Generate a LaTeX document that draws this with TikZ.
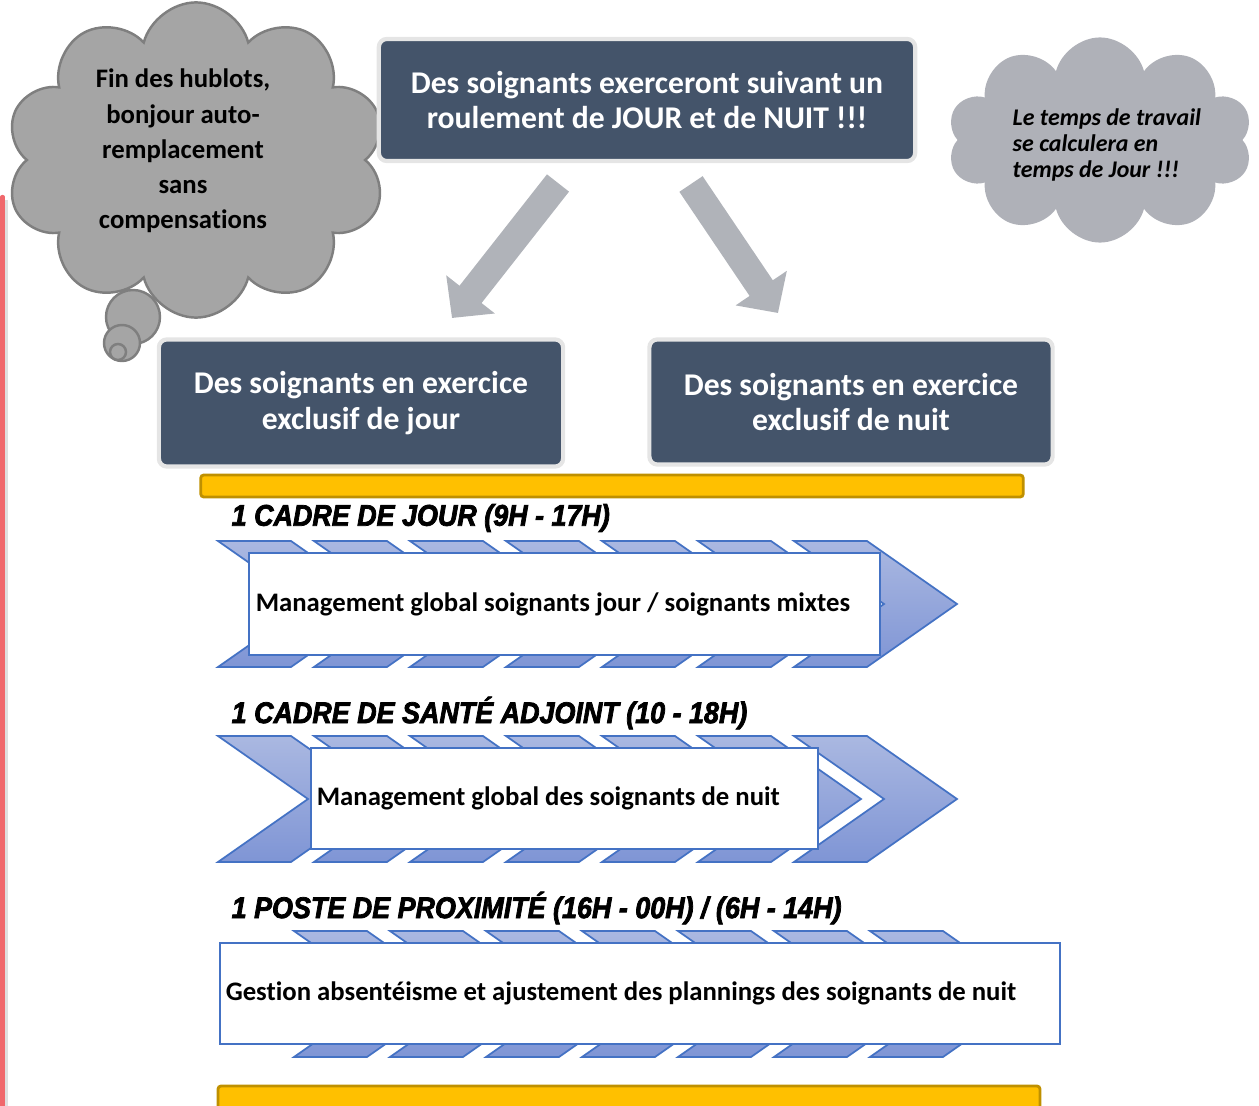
\documentclass[tikz,border=0pt]{standalone}
\usepackage{fontspec}
\setmainfont[Ligatures=NoCommon]{Carlito}
\newfontfamily\headfont[FakeStretch=0.9,FakeBold=2.5]{Liberation Sans}
\usetikzlibrary{shapes.symbols,arrows.meta}
\definecolor{slate}{HTML}{44546A}
\definecolor{cloudgray}{HTML}{A5A5A5}
\definecolor{cloudline}{HTML}{7F7F7F}
\definecolor{cloudblue}{HTML}{AFB1B8}
\definecolor{arrowgray}{HTML}{B0B3B9}
\definecolor{chevtop}{HTML}{AAB8E1}
\definecolor{chevbot}{HTML}{7F95D5}
\definecolor{chevline}{HTML}{4472C4}
\definecolor{barfill}{HTML}{FFC000}
\definecolor{barline}{HTML}{BF9000}
\definecolor{redbar}{HTML}{F0686C}
\begin{document}
\begin{tikzpicture}
[   x=0.01cm, y=-0.01cm,
    darkbox/.style={draw=gray!20,line width=1.2pt,fill=slate,rounded corners=0.08cm,
        text=white,font=\fontsize{9}{10.2}\selectfont\bfseries,align=center},
    chev/.style={draw=chevline,line width=0.5pt,top color=chevtop,bottom color=chevbot},
    whitebox/.style={draw=chevline,line width=0.5pt,fill=white,align=flush left,
        font=\fontsize{7.6}{9}\selectfont\bfseries},
    yellowbar/.style={draw=barline,line width=0.8pt,fill=barfill,rounded corners=0.03cm},
    heading/.style={anchor=west,inner sep=0pt,font=\fontsize{8.5}{9}\selectfont\headfont\bfseries\itshape},
    bigarrow/.style={draw=arrowgray,line width=0.28cm,-{Triangle[length=0.3cm,width=0.6cm]}},
]
    \useasboundingbox (0,0) rectangle (1259,1106);
    % left margin line
    \fill[gray!25] (4,200) rectangle (8,1106);
    \fill[redbar,rounded corners=0.02cm] (0,195) rectangle (5,1130);
    % clouds
    \node[cloud,cloud puffs=10,minimum width=3.8cm,minimum height=3.15cm,
        fill=cloudgray,draw=cloudline,line width=0.7pt] (fin) at (196,160) {};
    \foreach \cx/\cy/\r [count=\i] in {133/317/27, 122/343/18, 118/352/8}
    {   \draw[fill=cloudgray,draw=cloudline,line width=0.7pt] (\cx,\cy) circle[radius=\r*0.01cm];
    }
    \node[font=\fontsize{7.6}{10}\selectfont\bfseries,align=center] (fin-txt) at (183,151)
        {Fin des hublots,\\bonjour auto-\\remplacement\\sans\\compensations};
    \node[cloud,cloud puffs=10,minimum width=3.05cm,minimum height=2.05cm,fill=cloudblue] (temps) at (1100,140) {};
    \node[anchor=west,inner sep=0pt,font=\fontsize{6.8}{7.5}\selectfont\bfseries\itshape,align=left] (temps-txt) at (1012,145)
        {Le temps de travail\\se calculera en\\temps de Jour !!!};
    % top and split boxes
    \node[darkbox,minimum width=5.36cm,minimum height=1.22cm] (roulement) at (647,100)
        {Des soignants exerceront suivant un\\roulement de JOUR et de NUIT !!!};
    \node[darkbox,minimum width=4.04cm,minimum height=1.27cm] (jour) at (361,403)
        {Des soignants en exercice\\exclusif de jour};
    \node[darkbox,minimum width=4.03cm,minimum height=1.25cm] (nuit) at (851,402)
        {Des soignants en exercice\\exclusif de nuit};
    \coordinate (ga-s) at (558,183);
    \coordinate (ga-e) at (452,318);
    \coordinate (dr-s) at (691,184);
    \coordinate (dr-e) at (778,313);
    \draw[bigarrow] (ga-s) -- (ga-e);
    \draw[bigarrow] (dr-s) -- (dr-e);
    % yellow bars
    \node[yellowbar,minimum width=8.22cm,minimum height=0.22cm,inner sep=0pt] (bar-top) at (612,486) {};
    \draw[yellowbar] (218,1086) rectangle (1040,1130);
    % chevron strips
    \foreach \x/\t in {218/541, 218/736, 294/931}
    {   \foreach \k in {0,...,6}
        {   \draw[chev] ({\x+96*\k},\t) -- ++(73,0) -- ++(90,63) -- ++(-90,63) -- ++(-73,0) -- ++(90,-63) -- cycle;
        }
    }
    \node[whitebox,minimum height=1.02cm,text width=6.17cm,inner xsep=0.07cm] (cadre) at (564.5,604)
        {Management global soignants jour / soignants mixtes};
    \node[whitebox,minimum height=1.01cm,text width=4.95cm,inner xsep=0.06cm] (adjoint) at (564.5,798.5)
        {Management global des soignants de nuit};
    \node[whitebox,minimum height=1.01cm,text width=8.28cm,inner xsep=0.06cm] (proxi) at (640,993.5)
        {Gestion absentéisme et ajustement des plannings des soignants de nuit};
    % headings
    \node[heading] (cadre-h) at (231,518) {1 CADRE DE JOUR (9H - 17H)};
    \node[heading] (adjoint-h) at (231,713) {1 CADRE DE SANTÉ ADJOINT (10 - 18H)};
    \node[heading] (proxi-h) at (231,908) {1 POSTE DE PROXIMITÉ (16H - 00H) / (6H - 14H)};
\end{tikzpicture}
\end{document}
